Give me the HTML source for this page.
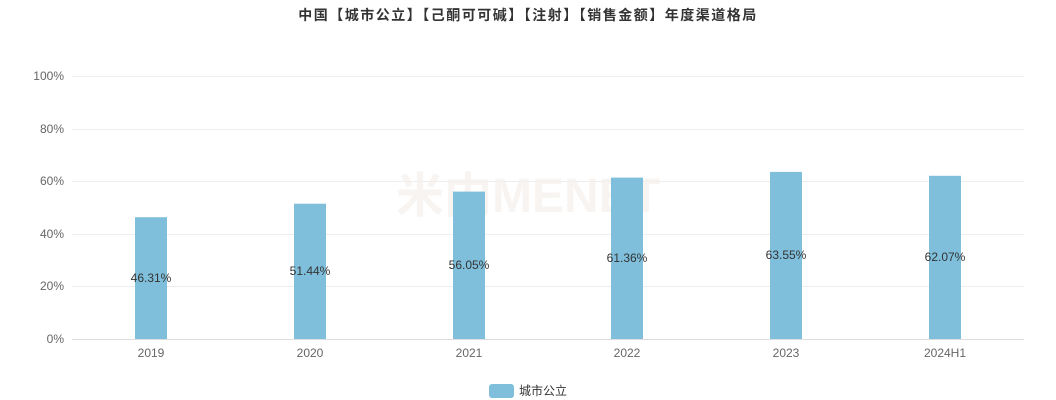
<!DOCTYPE html>
<html><head><meta charset="utf-8"><style>
html,body{margin:0;padding:0;background:#fff;}
svg{display:block;font-family:"Liberation Sans","Noto Sans CJK SC",sans-serif;}
</style></head><body>
<svg width="1056" height="400" viewBox="0 0 1056 400">
<text x="528" y="20" text-anchor="middle" font-size="14" font-weight="bold" fill="#333" letter-spacing="1.5">中国【城市公立】【己酮可可碱】【注射】【销售金额】年度渠道格局</text>
<g stroke="#eeeeee" stroke-width="1">
<line x1="72" y1="76.5" x2="1024" y2="76.5"/>
<line x1="72" y1="129.5" x2="1024" y2="129.5"/>
<line x1="72" y1="181.5" x2="1024" y2="181.5"/>
<line x1="72" y1="234.5" x2="1024" y2="234.5"/>
<line x1="72" y1="286.5" x2="1024" y2="286.5"/>
</g>
<line x1="72" y1="339.5" x2="1024" y2="339.5" stroke="#dddddd"/>
<g font-size="12" fill="#666" text-anchor="end">
<text x="64" y="80">100%</text><text x="64" y="133">80%</text><text x="64" y="185">60%</text>
<text x="64" y="238">40%</text><text x="64" y="290">20%</text><text x="64" y="343">0%</text>
</g>
<text x="528" y="212" text-anchor="middle" font-size="48" font-weight="bold" fill="#f5f0ec" opacity="0.7">米内MENET</text>
<g fill="#7fbfdb">
<rect x="135" y="217.2" width="32" height="121.8"/>
<rect x="294" y="203.7" width="32" height="135.3"/>
<rect x="453" y="191.6" width="32" height="147.4"/>
<rect x="611" y="177.6" width="32" height="161.4"/>
<rect x="770" y="171.9" width="32" height="167.1"/>
<rect x="929" y="175.8" width="32" height="163.2"/>
</g>
<g font-size="12" fill="#333" text-anchor="middle">
<text x="151" y="282">46.31%</text><text x="310" y="275">51.44%</text><text x="469" y="269">56.05%</text>
<text x="627" y="262">61.36%</text><text x="786" y="259">63.55%</text><text x="945" y="261">62.07%</text>
</g>
<g font-size="12" fill="#666" text-anchor="middle">
<text x="151" y="357">2019</text><text x="310" y="357">2020</text><text x="469" y="357">2021</text>
<text x="627" y="357">2022</text><text x="786" y="357">2023</text><text x="945" y="357">2024H1</text>
</g>
<rect x="489" y="384" width="25" height="14" rx="3" fill="#7fbfdb"/>
<text x="519" y="395" font-size="12" fill="#333">城市公立</text>
</svg>
</body></html>
